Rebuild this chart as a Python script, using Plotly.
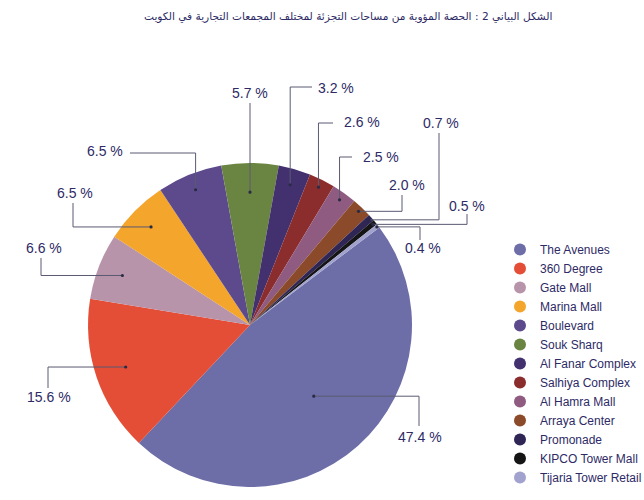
import numpy as np
import plotly.graph_objects as go

# ---- data ----
malls = ["The Avenues", "360 Degree", "Gate Mall", "Marina Mall", "Boulevard", "Souk Sharq",
         "Al Fanar Complex", "Salhiya Complex", "Al Hamra Mall", "Arraya Center", "Promonade",
         "KIPCO Tower Mall", "Tijaria Tower Retail"]
shares = [47.4, 15.6, 6.6, 6.5, 6.5, 5.7, 3.2, 2.6, 2.5, 2.0, 0.7, 0.5, 0.4]
labels_txt = [f"{v:.1f} %" for v in shares]
title = "الشكل البياني 2 : الحصة المؤوية من مساحات التجزئة لمختلف المجمعات التجارية في الكويت"

# ---- style ----
colors = ["#6d6da7", "#e44e37", "#b894aa", "#f4a52c", "#5c4a8c", "#6a8541",
          "#43306f", "#8b2d2d", "#8f5b80", "#8b4a29", "#2f2656", "#151515", "#a2a2ce"]
W, H = 644, 500
CX, CY, R = 250, 325, 162
ROT = 53
TXT = "#2e2a66"
LINE = "#5a5a72"

# dot radius fraction, route, elbow, end, label x, label y, anchor
leaders = [
    (0.59, "h", 419, 426, 420, 437, "center"),
    (0.81, "h", 48, 388, 49, 397, "center"),
    (0.845, "h", 41, 258, 44, 248, "center"),
    (0.86, "h", 73, 203, 75, 193, "center"),
    (0.90, "v", 153, 130, 125, 151, "right"),
    (0.82, "s", None, 103, None, 93, "center"),
    (0.90, "v", 87, 312, 316, 88, "left"),
    (0.95, "v", 123, 333, 342, 122, "left"),
    (0.95, "v", 157, 352, 361, 157, "left"),
    (0.97, "h", 402, 195, 407, 185, "center"),
    (0.98, "h", 439, 133, 441, 123, "center"),
    (0.98, "h", 467, 214, 467, 206, "center"),
    (0.99, "h", 420, 240, 423, 248, "center"),
]

def px(x):
    return x / W

def py(y):
    return 1 - y / H

fig = go.Figure()
fig.add_trace(go.Pie(
    labels=malls, values=shares, sort=False, direction="clockwise", rotation=ROT,
    marker=dict(colors=colors, line=dict(width=0)), textinfo="none", hoverinfo="label+percent",
    showlegend=False,
    domain=dict(x=[px(CX - R), px(CX + R)], y=[py(CY + R), py(CY - R)]),
))

# legend entries with circular markers
for name, col in zip(malls, colors):
    fig.add_trace(go.Scatter(x=[None], y=[None], mode="markers", name=name,
                             marker=dict(color=col, size=9, symbol="circle")))

# leader lines and labels
vals = np.array(shares)
fr = vals / vals.sum()
starts = ROT + 360 * np.concatenate([[0], np.cumsum(fr)[:-1]])
mids = np.radians(starts + 180 * fr)

shapes, annots = [], []
for i, (f, route, elb, end, lx, ly, anc) in enumerate(leaders):
    dx = CX + R * f * np.sin(mids[i])
    dy = CY - R * f * np.cos(mids[i])
    if route == "h":
        pts = [(dx, dy), (elb, dy), (elb, end)]
    elif route == "v":
        pts = [(dx, dy), (dx, elb), (end, elb)]
    else:
        pts = [(dx, dy), (dx, end)]
        lx = dx
    for (x0, y0), (x1, y1) in zip(pts[:-1], pts[1:]):
        shapes.append(dict(type="line", xref="paper", yref="paper",
                           x0=px(x0), y0=py(y0), x1=px(x1), y1=py(y1),
                           line=dict(color=LINE, width=1)))
    shapes.append(dict(type="circle", xref="paper", yref="paper",
                       x0=px(dx - 1.6), x1=px(dx + 1.6), y0=py(dy + 1.6), y1=py(dy - 1.6),
                       fillcolor="#2a2a44", line=dict(width=0)))
    annots.append(dict(text=labels_txt[i], x=px(lx), y=py(ly), xref="paper", yref="paper",
                       xanchor=anc, yanchor="middle", showarrow=False,
                       font=dict(size=14, color=TXT, family="Liberation Sans, Arial")))

annots.append(dict(text=title, x=px(554), y=py(16), xref="paper", yref="paper",
                   xanchor="right", yanchor="middle", showarrow=False,
                   font=dict(size=10.6, color=TXT, family="DejaVu Sans")))

fig.update_layout(
    width=W, height=H, autosize=False,
    margin=dict(l=0, r=0, t=0, b=0, autoexpand=False),
    paper_bgcolor="white", plot_bgcolor="white",
    xaxis=dict(visible=False), yaxis=dict(visible=False),
    shapes=shapes, annotations=annots,
    legend=dict(x=px(500), y=py(235), xanchor="left", yanchor="top",
                font=dict(size=12, color=TXT, family="Liberation Sans, Arial"),
                itemsizing="constant", tracegroupgap=0, bgcolor="rgba(0,0,0,0)"),
)

fig.write_html("out.html", config={"responsive": False})
